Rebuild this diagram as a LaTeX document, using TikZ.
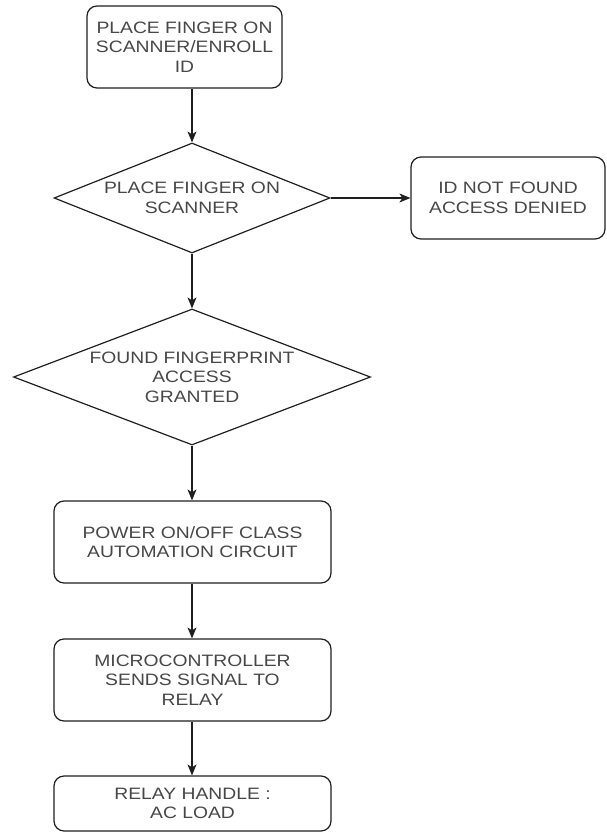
\documentclass[tikz,border=0pt]{standalone}
\usepackage{fontspec}
\setmainfont{Liberation Sans}[FakeStretch=1.17]
\usetikzlibrary{shapes.geometric,arrows.meta}
\begin{document}
\begin{tikzpicture}[x=1pt,y=-1pt,
  line/.style={draw=black!88, line width=1.2pt},
  box/.style={line, rounded corners=10pt, inner sep=0pt, align=center,
    font=\fontsize{16.5}{19.5}\selectfont, text=black!72},
  dia/.style={line, diamond, inner sep=0pt, aspect=2.5},
  txt/.style={align=center, inner sep=0pt, font=\fontsize{16.5}{19.5}\selectfont, text=black!72},
  arr/.style={line, -{Stealth[length=11pt,width=9pt,inset=3pt]}}
]
\useasboundingbox (0,0) rectangle (606,832);

\node[box, minimum width=195pt, minimum height=82pt] (b1) at (184.5,47)
  {PLACE FINGER ON\\SCANNER/ENROLL\\ID};
\node[dia, minimum width=276pt, minimum height=110pt] (d1) at (192,198) {};
\node[txt] (t1) at (d1) {PLACE FINGER ON\\SCANNER};
\node[box, minimum width=194pt, minimum height=82pt] (r) at (508,198)
  {ID NOT FOUND\\ACCESS DENIED};
\node[dia, minimum width=357pt, minimum height=136pt] (d2) at (192,377) {};
\node[txt] (t2) at (d2) {FOUND FINGERPRINT\\ACCESS\\GRANTED};
\node[box, minimum width=277pt, minimum height=82pt] (b3) at (192.5,542)
  {POWER ON/OFF CLASS\\AUTOMATION CIRCUIT};
\node[box, minimum width=277pt, minimum height=82pt] (b4) at (192.5,680)
  {MICROCONTROLLER\\SENDS SIGNAL TO\\RELAY};
\node[box, minimum width=277pt, minimum height=55pt] (b5) at (192.5,803.5)
  {RELAY HANDLE :\\AC LOAD};

\draw[arr] (b1.south -| d1.north) -- (d1.north);
\draw[arr] (d1.east) -- (r.west);
\draw[arr] (d1.south) -- (d2.north);
\draw[arr] (d2.south) -- (b3.north -| d2.south);
\draw[arr] (b3.south -| d2.south) -- (b4.north -| d2.south);
\draw[arr] (b4.south -| d2.south) -- (b5.north -| d2.south);
\end{tikzpicture}
\end{document}
